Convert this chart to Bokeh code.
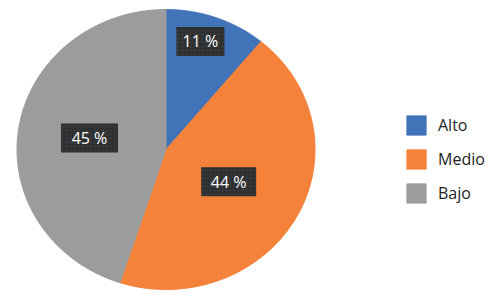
import numpy as np
from bokeh.plotting import figure
from bokeh.models import Range1d, Legend, LegendItem, ColumnDataSource
from bokeh.core.properties import value
from bokeh.embed import file_html
from bokeh.resources import INLINE

# ---- data ----
categories = ["Alto", "Medio", "Bajo"]
percentages = [11, 44, 45]
colors = ["#4173B9", "#F5823A", "#9B9C9E"]

# ---- layout constants (screen px in figure) ----
W, H = 491, 304
cx, cy = 165.5, 155.0      # pie centre (y from bottom)
rx, ry = 149.0, 140.0      # pie semi-axes
label_r = [0.82, 0.48, 0.52]  # label distance as fraction of radius
label_nudge = [-7, 0, 0]      # small horizontal nudge (px)
box_w = [48, 55, 57]          # label box widths (px)

p = figure(width=W, height=H, output_backend="svg", toolbar_location=None,
           x_range=Range1d(0, W), y_range=Range1d(0, H), min_border=0)
p.axis.visible = False
p.grid.visible = False
p.outline_line_color = None
p.background_fill_color = "white"
p.border_fill_color = "white"

total = float(sum(percentages))
cum = 0.0
items = []
lx, ly, ltxt = [], [], []
for i, (cat, val, col) in enumerate(zip(categories, percentages, colors)):
    a0 = 90.0 - 360.0 * cum / total
    a1 = 90.0 - 360.0 * (cum + val) / total
    t = np.radians(np.linspace(a0, a1, 200))
    xs = np.concatenate([[cx], cx + rx * np.cos(t)])
    ys = np.concatenate([[cy], cy + ry * np.sin(t)])
    r = p.patch(xs, ys, fill_color=col, line_color=col, line_width=1)
    items.append(LegendItem(label=cat, renderers=[r]))
    am = np.radians((a0 + a1) / 2.0)
    lx.append(cx + label_r[i] * rx * np.cos(am) + label_nudge[i])
    ly.append(cy + label_r[i] * ry * np.sin(am))
    ltxt.append(f"{val} %")
    cum += val

src = ColumnDataSource(dict(x=lx, y=ly, text=ltxt, w=box_w))
p.rect("x", "y", width="w", height=29, source=src, fill_color="#2e2f31",
       line_color=None, hatch_pattern="dot", hatch_color="#404144",
       hatch_scale=4, hatch_weight=1)
p.text("x", "y", text="text", source=src, text_color="white",
       text_font=value("Open Sans"), text_font_size="16px",
       text_align="center", text_baseline="middle")

legend = Legend(items=items, location=(404, 99), orientation="vertical",
                glyph_width=24, glyph_height=24, spacing=10, padding=0, margin=0,
                label_standoff=10, label_text_font="Open Sans",
                label_text_font_size="16px", label_text_color="#222222",
                border_line_color=None, background_fill_alpha=0)
p.add_layout(legend, "center")

open("out.html", "w").write(file_html(p, INLINE))
